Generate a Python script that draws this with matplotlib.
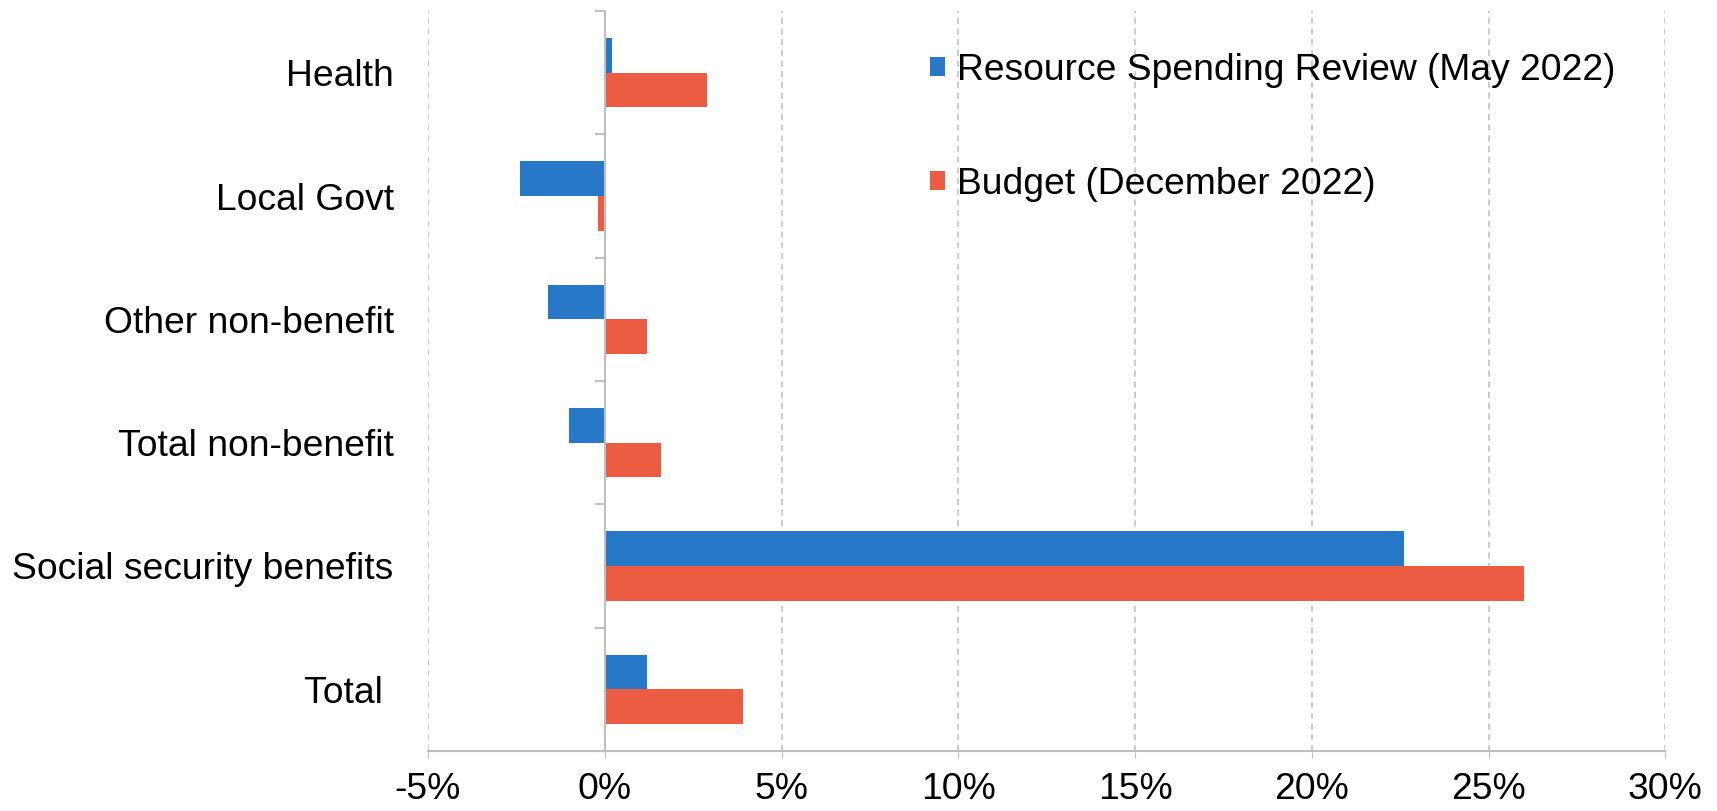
import matplotlib
matplotlib.use("Agg")
import matplotlib.pyplot as plt
import numpy as np
from matplotlib.ticker import FixedLocator, FuncFormatter

categories = ["Health", "Local Govt", "Other non-benefit", "Total non-benefit",
              "Social security benefits", "Total "]
spending_review = [0.2, -2.4, -1.6, -1.0, 22.6, 1.2]
budget = [2.9, -0.2, 1.2, 1.6, 26.0, 3.9]
series_names = ["Resource Spending Review (May 2022)", "Budget (December 2022)"]
x_ticks = [-5, 0, 5, 10, 15, 20, 25, 30]

BLUE = "#2878C8"
RED = "#EC5C42"
GRID = "#BFBFBF"
AXIS = "#BFBFBF"

plt.rcParams['font.family'] = ['Liberation Sans', 'DejaVu Sans']
FS = 26.8

fig = plt.figure(figsize=(17.17, 8.11), dpi=100)
ax = fig.add_axes([0.2493, 0.074, 0.9700 - 0.2493, 0.9864 - 0.074])

y = np.arange(len(categories))
h = 0.28
ax.barh(y - h / 2, spending_review, height=h, color=BLUE, label=series_names[0], zorder=3)
ax.barh(y + h / 2, budget, height=h, color=RED, label=series_names[1], zorder=3)

ax.set_xlim(-5, 30)
ax.set_ylim(len(categories) - 0.5, -0.5)

ax.xaxis.set_major_locator(FixedLocator(x_ticks))
ax.xaxis.set_major_formatter(FuncFormatter(lambda v, p: f"{int(v)}%"))
ax.grid(axis='x', color=GRID, linestyle=(0, (4, 3)), linewidth=1.1, zorder=0)
ax.grid(axis='y', visible=False)

for s in ['top', 'right']:
    ax.spines[s].set_visible(False)
ax.spines['bottom'].set_color(AXIS)
ax.spines['bottom'].set_linewidth(1.5)
ax.spines['left'].set_position(('data', 0))
ax.spines['left'].set_color(AXIS)
ax.spines['left'].set_linewidth(1.5)
ax.spines['left'].set_zorder(4)

ax.tick_params(axis='x', length=5, color=AXIS, labelsize=FS, pad=10)
ax.set_yticks(y)
ax.set_yticklabels(categories)
ax.tick_params(axis='y', which='major', length=0, labelsize=FS, pad=152)
ax.set_yticks(np.arange(len(categories) + 1) - 0.5, minor=True)
ax.tick_params(axis='y', which='minor', length=7, color=AXIS, width=1.5, direction='out')

leg = ax.legend(loc='upper left', bbox_to_anchor=(0.5415, 0.935), bbox_transform=fig.transFigure,
                frameon=False, fontsize=FS, handlelength=0.42, handleheight=0.42,
                handletextpad=0.3, labelspacing=2.12, borderpad=0, borderaxespad=0)

fig.savefig("out.png", dpi=100)
